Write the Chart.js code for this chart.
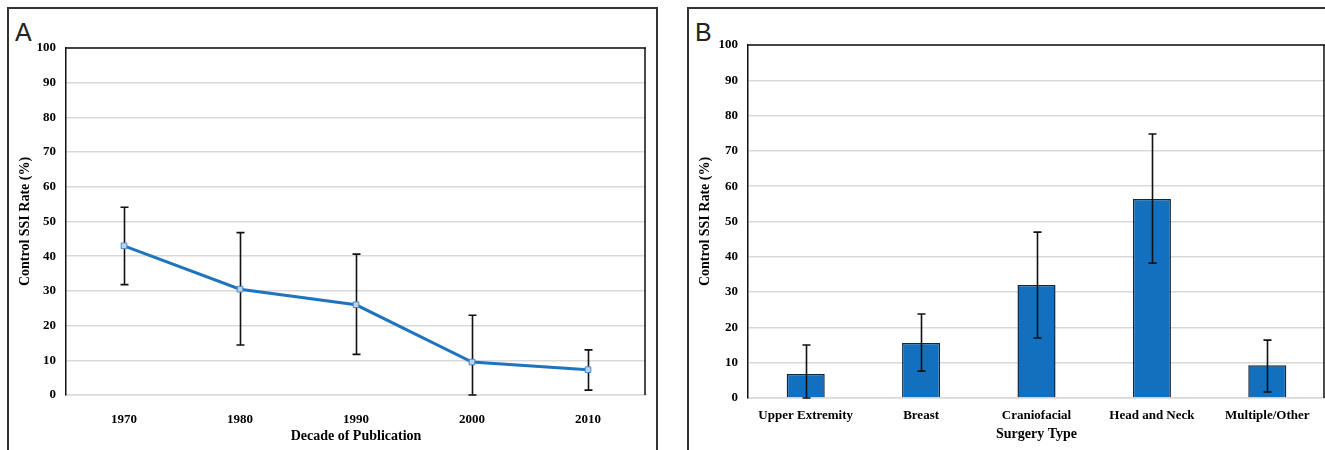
<!DOCTYPE html>
<html><head><meta charset="utf-8">
<script src="https://cdn.jsdelivr.net/npm/chart.js@4/dist/chart.umd.min.js"></script>
<style>
html,body{margin:0;padding:0;background:#fff;width:1325px;height:450px;overflow:hidden;position:relative}
.panel{position:absolute;border:2px solid #333;box-sizing:border-box}
.lab{position:absolute;font-family:'Liberation Sans',Arial,sans-serif;font-size:25px;line-height:1;color:#222}
canvas{position:absolute;left:0;top:0}
</style></head><body>
<div class="panel" style="left:7px;top:7px;width:651px;height:470px"></div>
<div class="panel" style="left:687px;top:7px;width:660px;height:470px"></div>
<div class="lab" style="left:15px;top:20px">A</div>
<div class="lab" style="left:695px;top:20px">B</div>
<div style="position:absolute;left:0;top:0;width:660px;height:450px"><canvas id="ca" width="660" height="450"></canvas></div>
<div style="position:absolute;left:660px;top:0;width:665px;height:450px"><canvas id="cb" width="665" height="450"></canvas></div>
<script>
const decades = ['1970', '1980', '1990', '2000', '2010'];
const ssiByDecade = [43, 30.5, 26, 9.5, 7.3];
const decadeErrLow = [31.8, 14.4, 11.7, 0, 1.4];
const decadeErrHigh = [54.1, 46.8, 40.6, 23, 13];

const surgeryTypes = ['Upper Extremity', 'Breast', 'Craniofacial', 'Head and Neck', 'Multiple/Other'];
const ssiBySurgery = [6.8, 15.6, 32, 56.4, 9.3];
const surgeryErrLow = [0, 7.6, 17, 38.2, 1.7];
const surgeryErrHigh = [15, 23.8, 47, 74.8, 16.4];

const yTicks = [0, 10, 20, 30, 40, 50, 60, 70, 80, 90, 100];
const yTitle = 'Control SSI Rate (%)';
const xTitleA = 'Decade of Publication';
const xTitleB = 'Surgery Type';

const SERIF = "'Liberation Serif', 'Times New Roman', serif";
const tickFont = { family: SERIF, size: 13, weight: 'bold' };
const titleFont = { family: SERIF, size: 14, weight: 'bold' };

function errorBars(low, high, hook) {
  return {
    id: 'errbars',
    [hook](chart) {
      const ctx = chart.ctx, y = chart.scales.y;
      const meta = chart.getDatasetMeta(0);
      ctx.save();
      ctx.strokeStyle = '#111';
      ctx.lineWidth = 1.6;
      meta.data.forEach((el, i) => {
        const x = Math.round(el.x) + 0.5;
        const t = y.getPixelForValue(high[i]);
        const b = y.getPixelForValue(low[i]);
        ctx.beginPath();
        ctx.moveTo(x, t); ctx.lineTo(x, b);
        ctx.moveTo(x - 4, t); ctx.lineTo(x + 4, t);
        ctx.moveTo(x - 4, b); ctx.lineTo(x + 4, b);
        ctx.stroke();
      });
      ctx.restore();
    }
  };
}

function frame(sides) {
  return {
    id: 'frame',
    afterDraw(chart) {
      const { ctx, chartArea: a } = chart;
      ctx.save();
      ctx.strokeStyle = '#111';
      ctx.lineWidth = 1.5;
      ctx.beginPath();
      if (sides.includes('top')) { ctx.moveTo(a.left, a.top); ctx.lineTo(a.right, a.top); }
      if (sides.includes('right')) { ctx.moveTo(a.right - 1, a.top); ctx.lineTo(a.right - 1, a.bottom); }
      ctx.stroke();
      ctx.restore();
    }
  };
}

function yAxis(width, title) {
  return {
    min: 0, max: 100,
    afterBuildTicks: s => { s.ticks = yTicks.map(v => ({ value: v })); },
    ticks: { padding: 10, color: '#000', font: tickFont },
    grid: { color: '#d9d9d9', lineWidth: 1.5, drawTicks: false },
    border: { display: true, color: '#111', width: 1.5 },
    title: { display: true, text: title, color: '#000', font: titleFont, padding: { top: 4, bottom: 0 } },
    afterFit: s => { s.width = width; }
  };
}

function xAxis(height, title, pad, tpad) {
  return {
    ticks: { padding: pad, color: '#000', font: tickFont, maxRotation: 0, autoSkip: false },
    grid: { display: false, drawTicks: false },
    border: { display: true, color: '#d9d9d9', width: 1.5 },
    title: { display: true, text: title, color: '#000', font: titleFont, padding: { top: 0, bottom: tpad } },
    afterFit: s => { s.height = height; }
  };
}

new Chart(document.getElementById('ca'), {
  type: 'line',
  data: {
    labels: decades,
    datasets: [{
      data: ssiByDecade,
      borderColor: '#1f74bf',
      borderWidth: 3,
      tension: 0,
      pointStyle: 'rect',
      pointRadius: 4,
      pointBackgroundColor: '#bcd3ec',
      pointBorderColor: '#4a88c8',
      pointBorderWidth: 1
    }]
  },
  options: {
    responsive: false, animation: false, devicePixelRatio: 1,
    layout: { padding: { left: 13, top: 48, right: 14, bottom: 0 } },
    plugins: { legend: { display: false }, tooltip: { enabled: false } },
    scales: {
      x: Object.assign(xAxis(55, xTitleA, 17, 5), { offset: true }),
      y: yAxis(53, yTitle)
    }
  },
  plugins: [errorBars(decadeErrLow, decadeErrHigh, 'beforeDatasetsDraw'), frame(['top', 'right'])]
});

new Chart(document.getElementById('cb'), {
  type: 'bar',
  data: {
    labels: surgeryTypes,
    datasets: [{
      data: ssiBySurgery,
      backgroundColor: '#1270be',
      borderColor: '#13273a',
      borderWidth: 1.5,
      barPercentage: 0.33,
      categoryPercentage: 1
    }]
  },
  options: {
    responsive: false, animation: false, devicePixelRatio: 1,
    layout: { padding: { left: 33, top: 45, right: 0, bottom: 0 } },
    plugins: { legend: { display: false }, tooltip: { enabled: false } },
    scales: {
      x: xAxis(52, xTitleB, 10, 7),
      y: yAxis(55, yTitle)
    }
  },
  plugins: [errorBars(surgeryErrLow, surgeryErrHigh, 'afterDatasetsDraw'), frame(['top', 'right'])]
});
</script>
</body></html>
